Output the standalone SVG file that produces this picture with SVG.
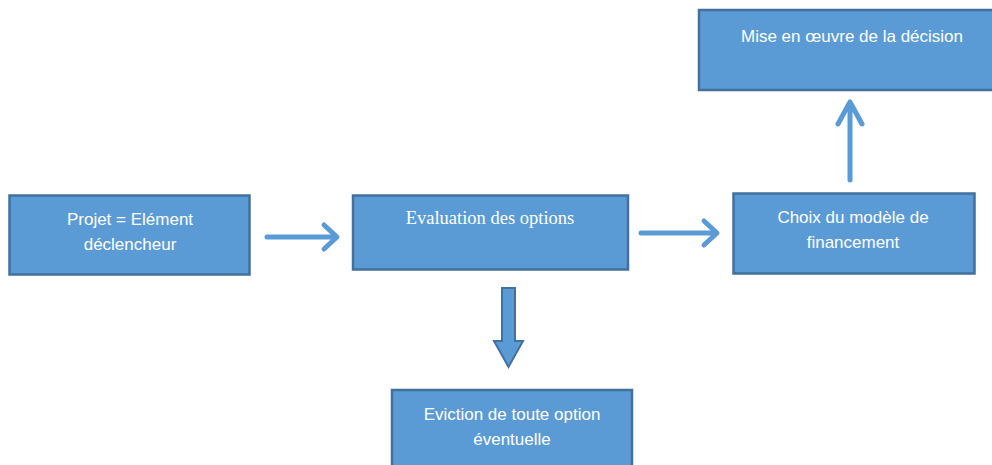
<svg xmlns="http://www.w3.org/2000/svg" width="992" height="465" viewBox="0 0 992 465">
<style>
.box{fill:#5B9BD5;stroke:#41719C;stroke-width:2.5}
.t{font-family:"Liberation Sans",Arial,sans-serif;font-size:17px;fill:#fff;text-anchor:middle}
.ts{font-family:"Liberation Serif","Times New Roman",serif;font-size:18.5px;fill:#fff;text-anchor:middle}
.ar{fill:none;stroke:#5B9BD5;stroke-width:5;stroke-linecap:round;stroke-linejoin:round}
</style>
<rect width="992" height="465" fill="#fff"/>
<g id="n1"><rect class="box" x="9.5" y="195.5" width="240" height="79"/>
<text class="t" x="130" y="225">Projet = Elément</text>
<text class="t" x="130" y="250">déclencheur</text></g>
<g id="n2"><rect class="box" x="353" y="195.5" width="275" height="74"/>
<text class="ts" x="490" y="224">Evaluation des options</text></g>
<g id="n3"><rect class="box" x="699" y="10" width="306" height="80"/>
<text class="t" x="852" y="42">Mise en œuvre de la décision</text></g>
<g id="n4"><rect class="box" x="733.5" y="193.5" width="241" height="80"/>
<text class="t" x="853" y="223">Choix du modèle de</text>
<text class="t" x="853" y="248">financement</text></g>
<g id="n5"><rect class="box" x="392" y="390" width="240" height="80"/>
<text class="t" x="512" y="420">Eviction de toute option</text>
<text class="t" x="512" y="445">éventuelle</text></g>
<g id="connectors">
<path class="ar" d="M267 237H336M324 225L337 237L324 249"/>
<path class="ar" d="M641 233H716M704 221L717 233L704 245"/>
<path class="ar" d="M850 180V102M838 124L850 102L862 124" stroke-linecap="butt"/>
<path d="M502 288H515V341H523L508.5 367L494 341H502Z" fill="#5B9BD5" stroke="#41719C" stroke-width="2"/>
</g>
</svg>
